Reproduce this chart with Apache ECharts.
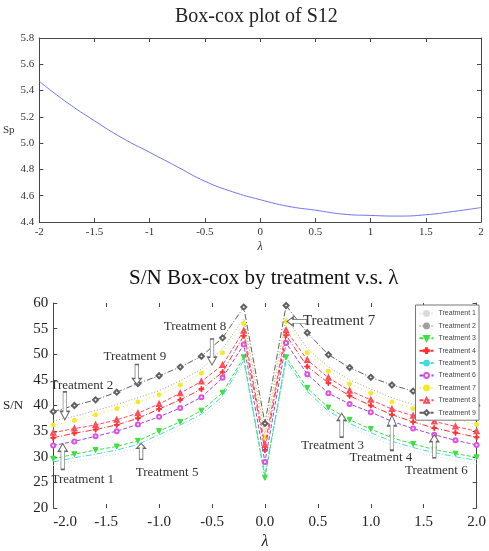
<!DOCTYPE html>
<html>
<head>
<meta charset="utf-8">
<script src="https://cdn.jsdelivr.net/npm/echarts@6/dist/echarts.min.js"></script>
<style>
    html, body { margin: 0; background: #fff; }
    #main { width: 489px; height: 551px; }
</style>
</head>
<body>
<div id="main"></div>
<script>
// top chart: Sp against lambda
var spLambda = [-2, -1.75, -1.5, -1.25, -1, -0.75, -0.5, -0.25, 0, 0.25, 0.5, 0.75, 1, 1.25, 1.5, 1.75, 2];
var spValues = [5.47, 5.31, 5.17, 5.04, 4.93, 4.82, 4.71, 4.63, 4.57, 4.52, 4.49, 4.46, 4.45, 4.445, 4.455, 4.48, 4.51];

// bottom chart: S/N by treatment
var lambdas = [-2.0, -1.8, -1.6, -1.4, -1.2, -1.0, -0.8, -0.6, -0.4, -0.2, 0, 0.2, 0.4, 0.6, 0.8, 1.0, 1.2, 1.4, 1.6, 1.8, 2.0];
var treatmentNames = ['Treatment 1', 'Treatment 2', 'Treatment 3', 'Treatment 4', 'Treatment 5',
    'Treatment 6', 'Treatment 7', 'Treatment 8', 'Treatment 9'];
var t1 = [28.3, 29.1, 29.8, 30.6, 31.7, 33.6, 35.5, 37.6, 41.1, 48.1, 25.9, 48.1, 42.0, 38.2, 35.8, 34.0, 32.3, 31.1, 30.1, 29.3, 28.6];
var t2 = [37.0, 37.9, 39.0, 40.2, 41.5, 42.9, 44.8, 47.1, 51.1, 56.9, 34.5, 57.2, 51.1, 47.5, 45.0, 43.2, 41.5, 40.2, 39.0, 38.1, 37.1];
var t3 = [29.6, 30.5, 31.3, 32.0, 33.1, 35.0, 36.8, 39.0, 42.5, 49.4, 25.9, 49.4, 43.4, 39.6, 37.2, 35.4, 33.7, 32.5, 31.4, 30.6, 29.9];
var t4 = [33.7, 34.6, 35.3, 36.2, 37.5, 39.3, 41.1, 43.2, 46.5, 53.6, 31.3, 53.7, 47.6, 44.4, 41.9, 40.0, 38.2, 36.8, 35.6, 34.7, 33.8];
var t5 = [29.0, 29.8, 30.5, 31.3, 32.4, 34.3, 36.2, 38.3, 41.8, 48.8, 26.6, 48.8, 42.7, 38.9, 36.5, 34.7, 33.0, 31.8, 30.8, 30.0, 29.3];
var t6 = [32.2, 33.0, 34.0, 35.0, 36.3, 37.8, 39.5, 41.6, 45.4, 51.9, 29.0, 52.2, 46.1, 42.4, 40.3, 38.7, 36.9, 35.5, 34.3, 33.2, 32.3];
var t7 = [36.2, 37.1, 38.2, 39.4, 40.7, 42.1, 44.0, 46.3, 50.3, 56.0, 33.8, 56.4, 50.3, 46.7, 44.2, 42.4, 40.7, 39.4, 38.2, 37.3, 36.3];
var t8 = [34.7, 35.5, 36.2, 37.2, 38.5, 40.3, 42.4, 44.7, 47.9, 54.6, 32.3, 54.7, 48.9, 45.4, 42.9, 41.1, 39.3, 38.0, 36.9, 35.9, 35.0];
var t9 = [38.8, 40.0, 41.1, 42.6, 44.3, 45.8, 47.5, 49.6, 53.2, 59.2, 36.5, 59.5, 54.2, 49.9, 47.4, 45.5, 44.0, 42.8, 41.8, 40.9, 40.0];
var treatmentValues = [t1, t2, t3, t4, t5, t6, t7, t8, t9];

var serif = 'Liberation Serif';
var plusPath = 'path://M4,0L6,0L6,4L10,4L10,6L6,6L6,10L4,10L4,6L0,6L0,4L4,4Z';
var triDownPath = 'path://M0,0L10,0L5,9Z';

var looks = [
    { line: '#dadada', mark: '#dadada', dash: [1, 2], symbol: 'none', size: 0 },
    { line: '#a0a0a0', mark: '#a0a0a0', dash: [1, 2], symbol: 'none', size: 0 },
    { line: '#3ee03e', mark: '#3ee03e', dash: [4, 2], symbol: triDownPath, size: 5 },
    { line: '#ff3030', mark: '#ff3030', dash: [6, 2, 1, 2], symbol: plusPath, size: 5 },
    { line: '#40dce4', mark: '#40dce4', dash: [6, 2, 1, 2], symbol: 'none', size: 0 },
    { line: '#9a44f0', mark: '#e050e0', dash: [4, 2], symbol: 'emptyCircle', size: 4 },
    { line: '#f4ea20', mark: '#f4ea20', dash: [1, 3], symbol: 'circle', size: 4 },
    { line: '#ff4a5a', mark: '#ff4a5a', dash: [4, 2], symbol: 'emptyTriangle', size: 4 },
    { line: '#606060', mark: '#606060', dash: [6, 2, 1, 2], symbol: 'emptyDiamond', size: 5 }
];

// callouts: text, lambda and S/N at the arrow tip, direction, arrow length, text centre from tip (px)
var notes = [
    ['Treatment 8', -0.5, 47.9, 'down', 26, -17, -38],
    ['Treatment 9', -1.21, 44.1, 'down', 20, -2, -28],
    ['Treatment 2', -1.89, 37.2, 'down', 28, 17, -34],
    ['Treatment 1', -1.91, 32.6, 'up', 26, 20, 36],
    ['Treatment 5', -1.17, 32.6, 'up', 16, 26, 29],
    ['Treatment 7', 0.21, 56.4, 'left', 20, 52, 0],
    ['Treatment 3', 0.725, 38.5, 'up', 24, -9, 32],
    ['Treatment 4', 1.2, 38.1, 'up', 35, -11, 42],
    ['Treatment 6', 1.6, 34.3, 'up', 23, 2, 36]
];
var arrowPaths = {
    up: 'path://M5,0L10,9L7,9L7,30L3,30L3,9L0,9Z',
    down: 'path://M3,0L7,0L7,21L10,21L5,30L0,21L3,21Z',
    left: 'path://M0,5L9,0L9,3L30,3L30,7L9,7L9,10Z'
};

var noteMarks = notes.map(function (n) {
    var len = n[4], size, off;
    if (n[3] === 'up') { size = [9, len]; off = [0, len / 2]; }
    else if (n[3] === 'down') { size = [9, len]; off = [0, -len / 2]; }
    else { size = [len, 9]; off = [len / 2, 0]; }
    return {
        coord: [n[1], n[2]],
        symbol: arrowPaths[n[3]],
        symbolSize: size,
        symbolOffset: off,
        itemStyle: { color: '#fff', borderColor: '#666', borderWidth: 1 },
        label: {
            show: true,
            position: 'inside',
            offset: [n[5] - off[0], n[6] - off[1]],
            formatter: n[0],
            color: '#333',
            fontFamily: serif,
            fontSize: n[0] === 'Treatment 7' ? 15 : 13
        }
    };
});

var snSeries = treatmentNames.map(function (name, i) {
    var lk = looks[i];
    var s = {
        name: name,
        type: 'line',
        xAxisIndex: 2,
        yAxisIndex: 2,
        data: lambdas.map(function (l, j) { return [l, treatmentValues[i][j]]; }),
        symbol: lk.symbol,
        symbolSize: lk.size,
        showSymbol: lk.symbol !== 'none',
        lineStyle: { color: lk.line, width: 1, type: lk.dash },
        itemStyle: { color: lk.mark, borderColor: lk.mark, borderWidth: 1 },
        z: 2 + i / 10
    };
    if (i === 8) {
        s.markPoint = { silent: true, data: noteMarks, z: 5 };
    }
    return s;
});

var tickStyle = { show: true, inside: true, length: 4, lineStyle: { color: '#444' } };
var lineOn = { show: true, onZero: false, lineStyle: { color: '#444', width: 1 } };
var lineOff = { show: false, onZero: false };

var myChart = echarts.init(document.getElementById('main'));
var option = {
    animation: false,
    backgroundColor: '#fff',
    title: [
        { text: 'Box-cox plot of S12', left: 170, top: 2,
          textStyle: { fontFamily: serif, fontSize: 20, fontWeight: 'normal', color: '#222' } },
        { text: 'S/N Box-cox by treatment v.s. λ', left: 124, top: 263,
          textStyle: { fontFamily: serif, fontSize: 21, fontWeight: 'normal', color: '#111' } }
    ],
    legend: {
        data: treatmentNames,
        orient: 'vertical',
        right: 10,
        top: 305,
        itemWidth: 14,
        itemHeight: 6,
        itemGap: 5.4,
        padding: [5, 3, 4, 3],
        backgroundColor: '#fff',
        borderColor: '#777',
        borderWidth: 1,
        textStyle: { fontSize: 7, color: '#444', fontFamily: 'Liberation Sans' }
    },
    grid: [
        { left: 36, right: 8, top: 38, height: 184 },
        { left: 42, right: 10, top: 303, height: 214 }
    ],
    xAxis: [
        { gridIndex: 0, type: 'value', min: -2, max: 2, interval: 0.5, position: 'bottom',
          axisLine: lineOn, axisTick: tickStyle, splitLine: { show: false },
          axisLabel: { fontFamily: serif, fontSize: 11, color: '#333', margin: 5 },
          name: 'λ', nameLocation: 'middle', nameGap: 19,
          nameTextStyle: { fontFamily: serif, fontSize: 12, fontStyle: 'italic', color: '#333' } },
        { gridIndex: 0, type: 'value', min: -2, max: 2, interval: 0.5, position: 'top',
          axisLine: lineOn, axisTick: tickStyle, splitLine: { show: false }, axisLabel: { show: false } },
        { gridIndex: 1, type: 'value', min: -2, max: 2, interval: 0.5, position: 'bottom',
          axisLine: lineOff, axisTick: tickStyle, splitLine: { show: false },
          axisLabel: { fontFamily: serif, fontSize: 15, color: '#222', margin: 7, alignMinLabel: 'left',
                       formatter: function (v) { return v.toFixed(1); } },
          name: 'λ', nameLocation: 'middle', nameGap: 26,
          nameTextStyle: { fontFamily: serif, fontSize: 16, fontStyle: 'italic', color: '#222' } },
        { gridIndex: 1, type: 'value', min: -2, max: 2, interval: 0.5, position: 'top',
          axisLine: lineOff, axisTick: tickStyle, splitLine: { show: false }, axisLabel: { show: false } }
    ],
    yAxis: [
        { gridIndex: 0, type: 'value', min: 4.4, max: 5.8, interval: 0.2, position: 'left',
          axisLine: lineOn, axisTick: tickStyle, splitLine: { show: false },
          axisLabel: { fontFamily: serif, fontSize: 11, color: '#333', margin: 5,
                       formatter: function (v) { return v.toFixed(1); } },
          name: 'Sp', nameLocation: 'middle', nameGap: 22, nameRotate: 0,
          nameTextStyle: { fontFamily: serif, fontSize: 11, color: '#333' } },
        { gridIndex: 0, type: 'value', min: 4.4, max: 5.8, interval: 0.2, position: 'right',
          axisLine: lineOn, axisTick: tickStyle, splitLine: { show: false }, axisLabel: { show: false } },
        { gridIndex: 1, type: 'value', min: 20, max: 60, interval: 5, position: 'left',
          axisLine: lineOn, axisTick: tickStyle, splitLine: { show: false },
          axisLabel: { fontFamily: serif, fontSize: 15, color: '#222', margin: 5 },
          name: 'S/N', nameLocation: 'middle', nameGap: 30, nameRotate: 0,
          nameTextStyle: { fontFamily: serif, fontSize: 13, color: '#222' } },
        { gridIndex: 1, type: 'value', min: 20, max: 60, interval: 5, position: 'right',
          axisLine: lineOn, axisTick: tickStyle, splitLine: { show: false }, axisLabel: { show: false } }
    ],
    series: [
        {
            name: 'Sp',
            type: 'line',
            xAxisIndex: 0,
            yAxisIndex: 0,
            smooth: true,
            showSymbol: false,
            data: spLambda.map(function (l, i) { return [l, spValues[i]]; }),
            lineStyle: { color: '#7474ee', width: 1 }
        }
    ].concat(snSeries)
};
myChart.setOption(option);
</script>
</body>
</html>
